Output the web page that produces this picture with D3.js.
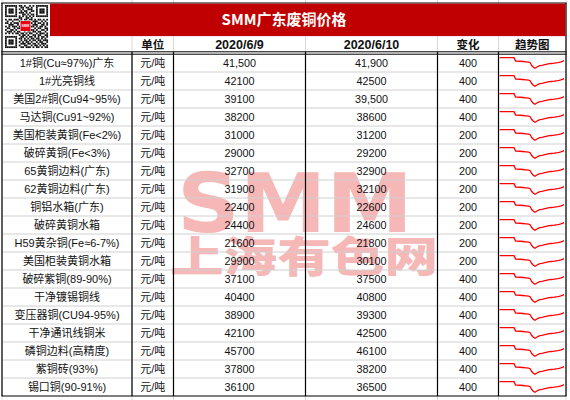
<!DOCTYPE html>
<html><head><meta charset="utf-8">
<script src="https://cdn.jsdelivr.net/npm/d3@7"></script>
<style>html,body{margin:0;padding:0;background:#fff}svg{display:block}</style>
</head><body><svg id="c" width="570" height="400"></svg>
<script>
const title = "SMM广东废铜价格";
const headers = ["", "单位", "2020/6/9", "2020/6/10", "变化", "趋势图"];
const products = ["1#铜(Cu≈97%)广东", "1#光亮铜线", "美国2#铜(Cu94~95%)", "马达铜(Cu91~92%)",
  "美国柜装黄铜(Fe<2%)", "破碎黄铜(Fe<3%)", "65黄铜边料(广东)", "62黄铜边料(广东)", "铜铝水箱(广东)",
  "破碎黄铜水箱", "H59黄杂铜(Fe≈6-7%)", "美国柜装黄铜水箱", "破碎紫铜(89-90%)", "干净镀锡铜线",
  "变压器铜(CU94-95%)", "干净通讯线铜米", "磷铜边料(高精度)", "紫铜砖(93%)", "锡口铜(90-91%)"];
const unit = "元/吨";
const price0609 = [41500, 42100, 39100, 38200, 31000, 29000, 32700, 31900, 22400, 24400, 21600, 29900, 37100, 40400, 38900, 42100, 45700, 37800, 36100];
const price0610 = [41900, 42500, 39500, 38600, 31200, 29200, 32900, 32100, 22600, 24600, 21800, 30100, 37500, 40800, 39300, 42500, 46100, 38200, 36500];
const change = [400, 400, 400, 400, 200, 200, 200, 200, 200, 200, 200, 200, 400, 400, 400, 400, 400, 400, 400];
const commaRows0609 = [0];
const commaRows0610 = [0, 2];
const trend = [100, 100, 100, 100, 100, 100, 100, 100, 100, 100, 97, 97, 96.8, 96.8, 96.6, 96.6, 96.3, 96.3, 96, 95.5,
  93, 91.5, 90.5, 91.5, 92.3, 92.9, 93.1, 93.4, 93.8, 94.1, 94.4, 94.6, 94.8, 95, 95.1, 95.3, 95.5, 95.8, 96.2, 96.7, 97.3];
const qr = [
  "1111111011010010101111111",
  "1000001001101101001000001",
  "1011101010100111001011101",
  "1011101001011001101011101",
  "1011101011101010001011101",
  "1000001000110101101000001",
  "1111111010101010101111111",
  "0000000011001101000000000",
  "1011011101011011010110101",
  "0100100011010100111001010",
  "1101011101101101010110101",
  "0011100100110010111001101",
  "1010111010001101101011010",
  "0110010111010110010110011",
  "1001101001101001101001101",
  "0111010110010110110110010",
  "1010101101101011001011101",
  "0000000010110100110110011",
  "1111111001101011010101101",
  "1000001011010101101101010",
  "1011101001011010110110111",
  "1011101010101101001011001",
  "1011101001110110110101110",
  "1000001010011001011010101",
  "1111111001101110101101011"];

const svg = d3.select("#c");
const edges = [2, 132, 173.5, 305.5, 437.5, 498.5, 566];
const centers = edges.slice(0, -1).map((e, i) => (e + edges[i + 1]) / 2);
const y = d3.scaleBand().domain(d3.range(products.length)).range([54, 396]);
const TOP = 3, BOT = 396;
const FONT = "'Liberation Sans', 'Noto Sans CJK SC', Arial, sans-serif";

svg.append("rect").attr("width", 570).attr("height", 400).attr("fill", "#fff");
// Excel gridline stubs
svg.append("g").selectAll("line").data(edges).join("line")
  .attr("x1", d => d).attr("x2", d => d).attr("y1", 0).attr("y2", 400)
  .attr("stroke", "#d9d9d9").attr("stroke-width", 1);

// watermark
const wm = svg.append("g").attr("fill", "#f6b7b7");
wm.append("text").attr("x", 177).attr("y", 232).attr("font-family", "'DejaVu Sans', sans-serif")
  .attr("font-weight", "bold").attr("font-size", 82).attr("textLength", 236)
  .attr("lengthAdjust", "spacingAndGlyphs").text("SMM");
wm.append("text").attr("x", 170).attr("y", 271.5).attr("font-family", "'Noto Sans CJK SC', sans-serif")
  .attr("font-weight", 900).attr("font-size", 42).attr("textLength", 268)
  .attr("lengthAdjust", "spacingAndGlyphs").text("上海有色网");

// gray horizontal row lines
svg.append("g").selectAll("line").data(d3.range(1, products.length)).join("line")
  .attr("x1", edges[0]).attr("x2", edges[6])
  .attr("y1", d => y(d)).attr("y2", d => y(d))
  .attr("stroke", "#d0d0d0").attr("stroke-width", 1);

// black vertical lines in data area
svg.append("g").selectAll("line").data(edges).join("line")
  .attr("x1", d => d).attr("x2", d => d)
  .attr("y1", (d, i) => (i === 0 || i === 6) ? TOP : 52).attr("y2", BOT)
  .attr("stroke", "#000").attr("stroke-width", 1.2);

// header double line & borders
[[TOP, 1.2], [51.8, 1], [54.2, 1], [BOT, 1.2]].forEach(([yy, w]) => {
  svg.append("line").attr("x1", edges[0] - 0.6).attr("x2", edges[6] + 0.6)
    .attr("y1", yy).attr("y2", yy).attr("stroke", "#000").attr("stroke-width", w);
});

// title band
svg.append("rect").attr("x", 50).attr("y", TOP + 0.6).attr("width", edges[6] - 50 - 0.6)
  .attr("height", 32.5).attr("fill", "#c00000");
svg.append("text").attr("x", 284).attr("y", 20).attr("dy", "0.36em")
  .attr("text-anchor", "middle").attr("fill", "#fff").attr("font-weight", "bold")
  .attr("font-size", 15).attr("font-family", "'Noto Sans CJK SC', sans-serif").text(title);

// QR code
const qrG = svg.append("g").attr("transform", "translate(5,5)");
const ms = 43 / 25;
const cells = [];
qr.forEach((row, r) => row.split("").forEach((c, k) => { if (c === "1") cells.push([r, k]); }));
qrG.selectAll("rect").data(cells).join("rect")
  .attr("x", d => d[1] * ms).attr("y", d => d[0] * ms)
  .attr("width", ms + 0.05).attr("height", ms + 0.05).attr("fill", "#111");
qrG.append("rect").attr("x", 15).attr("y", 15.5).attr("width", 11).attr("height", 11)
  .attr("fill", "#fff");
qrG.append("rect").attr("x", 15.5).attr("y", 16).attr("width", 10).attr("height", 10)
  .attr("fill", "#e60012");
qrG.append("text").attr("x", 20.5).attr("y", 22.3).attr("text-anchor", "middle")
  .attr("font-size", 3.4).attr("font-weight", "bold").attr("fill", "#fff")
  .attr("font-family", FONT).text("SMM");

// header text
svg.append("g").selectAll("text").data(headers).join("text")
  .attr("x", (d, i) => centers[i]).attr("y", 44.5).attr("dy", "0.36em")
  .attr("text-anchor", "middle").attr("font-weight", "bold")
  .attr("font-size", (d, i) => (i === 2 || i === 3) ? 12.5 : 11.5)
  .attr("font-family", FONT).attr("fill", "#111").text(d => d);

// data rows
const fmtC = d3.format(",");
const rows = svg.append("g").selectAll("g").data(products).join("g")
  .attr("transform", (d, i) => `translate(0,${y(i)})`);
const cellText = (sel, col, fn, size) => sel.append("text")
  .attr("x", centers[col]).attr("y", y.bandwidth() / 2).attr("dy", "0.36em")
  .attr("text-anchor", "middle").attr("font-size", size).attr("font-family", FONT)
  .attr("fill", "#111").text(fn);
cellText(rows, 0, d => d, 11);
cellText(rows, 1, () => unit, 11);
cellText(rows, 2, (d, i) => commaRows0609.includes(i) ? fmtC(price0609[i]) : String(price0609[i]), 10.8);
cellText(rows, 3, (d, i) => commaRows0610.includes(i) ? fmtC(price0610[i]) : String(price0610[i]), 10.8);
cellText(rows, 4, (d, i) => String(change[i]), 10.8);

// sparklines
const sx = d3.scaleLinear().domain([0, trend.length - 1]).range([499.5, 564]);
const sy = d3.scaleLinear().domain(d3.extent(trend)).range([14.3, 3.7]);
const line = d3.line().x((d, i) => sx(i)).y(d => sy(d));
rows.append("path").attr("d", line(trend)).attr("fill", "none")
  .attr("stroke", "#ff0000").attr("stroke-width", 1.3);
</script></body></html>
